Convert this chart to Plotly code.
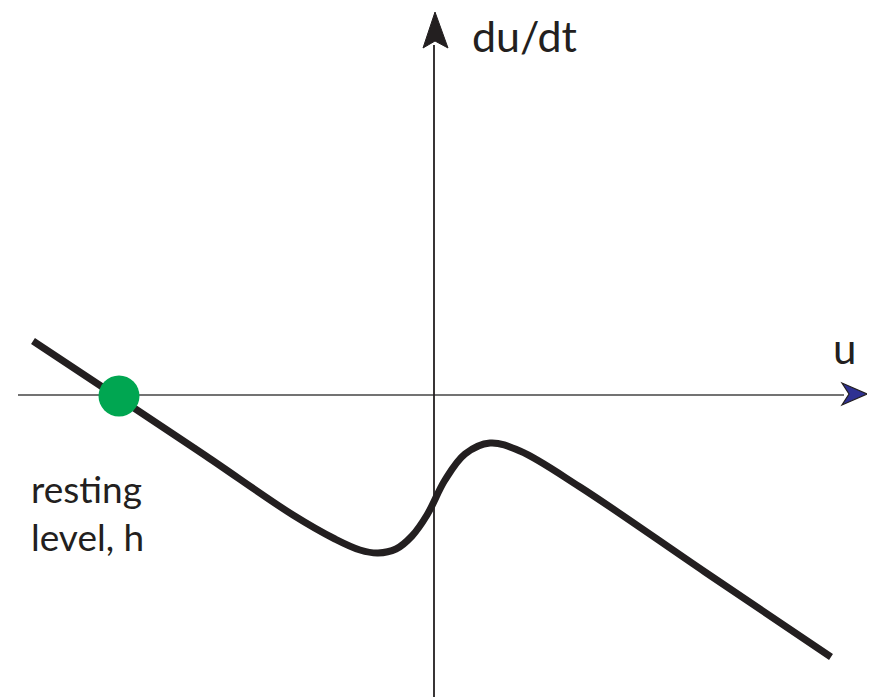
import plotly.graph_objects as go

# Curve (u, du/dt), arbitrary units, origin at axes crossing
u_vals = [-401, -315, -228, -141, -99, -74, -56, -38, -22, -7, 11, 31, 56, 86, 146, 271, 397]
dudt_vals = [54, -3, -61, -120, -144, -155, -158, -154, -141, -120, -85, -59, -48, -56, -92, -177, -262]

# resting level (stable fixed point)
rest_u = [-315]
rest_dudt = [-1]

INK = "#231f20"
FONT = "Lato, 'Open Sans', sans-serif"

fig = go.Figure()

fig.add_trace(go.Scatter(
    x=u_vals, y=dudt_vals, mode="lines",
    line=dict(color=INK, width=7, shape="spline", smoothing=1.0),
    hoverinfo="skip", showlegend=False,
))
fig.add_trace(go.Scatter(
    x=rest_u, y=rest_dudt, mode="markers",
    marker=dict(color="#00a651", size=41, line=dict(width=0)),
    hoverinfo="skip", showlegend=False,
))

shapes = [
    # horizontal axis
    dict(type="line", x0=-416, x1=410, y0=0, y1=0, line=dict(color="#444444", width=1.5), layer="below"),
    # vertical axis
    dict(type="line", x0=0, x1=0, y0=-310, y1=350, line=dict(color=INK, width=1.8), layer="below"),
    # vertical arrowhead
    dict(type="path", path="M 1,383 L -11,347 L 1,354 L 14,347 Z",
         fillcolor=INK, line=dict(color=INK, width=1)),
    # horizontal arrowhead (blue)
    dict(type="path", path="M 433,1 L 408,12 L 415,1 L 408,-10 Z",
         fillcolor="#2e3192", line=dict(color=INK, width=1.2)),
]

annotations = [
    dict(x=36, y=360, text="du/dt", showarrow=False, xanchor="left", yanchor="middle",
         font=dict(family=FONT, size=43, color=INK)),
    dict(x=397, y=47, text="u", showarrow=False, xanchor="left", yanchor="middle",
         font=dict(family=FONT, size=42, color=INK)),
    dict(x=-405, y=-117, text="resting<br>level, h", showarrow=False, xanchor="left", yanchor="middle",
         align="left", font=dict(family=FONT, size=37, color=INK)),
]

fig.update_layout(
    width=875, height=697,
    margin=dict(l=0, r=0, t=0, b=0),
    paper_bgcolor="white", plot_bgcolor="white",
    xaxis=dict(range=[-426, 449], visible=False, fixedrange=True),
    yaxis=dict(range=[-310, 387], visible=False, fixedrange=True),
    shapes=shapes, annotations=annotations,
    showlegend=False,
)

fig.write_html("out.html")
